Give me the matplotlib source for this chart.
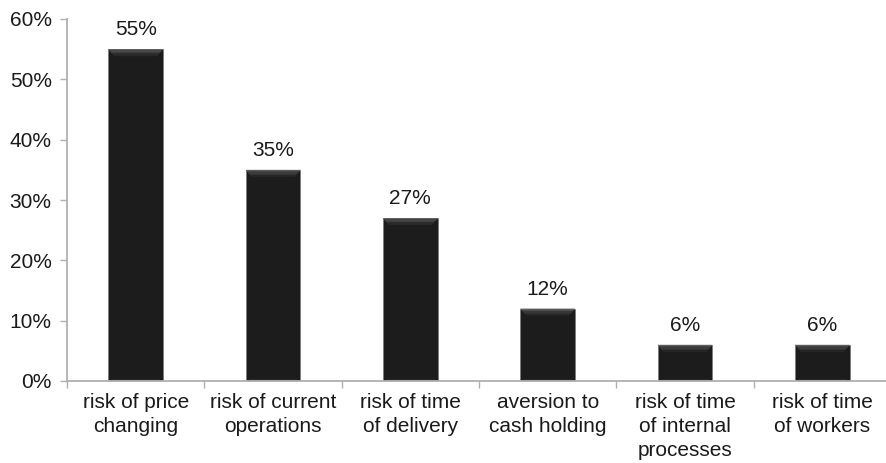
import matplotlib
matplotlib.use("Agg")
import matplotlib.pyplot as plt
from matplotlib.patches import Polygon
import numpy as np

categories = [
    "risk of price\nchanging",
    "risk of current\noperations",
    "risk of time\nof delivery",
    "aversion to\ncash holding",
    "risk of time\nof internal\nprocesses",
    "risk of time\nof workers",
]
shares = [55, 35, 27, 12, 6, 6]
y_ticks = [0, 10, 20, 30, 40, 50, 60]

plt.rcParams["font.family"] = ["Liberation Sans", "DejaVu Sans"]

W, H = 886, 463
fig = plt.figure(figsize=(W / 100, H / 100), dpi=100)
ax = fig.add_axes([67 / W, (H - 381) / H, (891 - 67) / W, 362 / H])

x = np.arange(len(categories))
bar_w = 0.4
bars = ax.bar(x, shares, width=bar_w, color="#1c1c1c",
              edgecolor="#7a7a7a", linewidth=0.6, zorder=2)

# bevelled highlight along the top of each bar
px_per_unit_y = 362 / 60.0
px_per_unit_x = 824 / 6.0
bev_h = 7 / px_per_unit_y
bev_in = 6 / px_per_unit_x
shades = ["#5c5c5c", "#4c4c4c", "#3e3e3e", "#323232", "#282828"]
n = len(shades)
for rect in bars:
    x0 = rect.get_x()
    x1 = x0 + rect.get_width()
    top = rect.get_height()
    for i, c in enumerate(shades):
        f0 = i / n
        f1 = (i + 1) / n
        ax.add_patch(Polygon([(x0 + bev_in * f0, top - bev_h * f0),
                              (x1 - bev_in * f0, top - bev_h * f0),
                              (x1 - bev_in * f1, top - bev_h * f1),
                              (x0 + bev_in * f1, top - bev_h * f1)],
                             closed=True, facecolor=c, edgecolor="none",
                             zorder=3))
    # faint lighter strip at the base
    ax.add_patch(Polygon([(x0 + bev_in * 0.5, 0.15), (x1 - bev_in * 0.5, 0.15),
                          (x1 - bev_in * 0.5, 0.4), (x0 + bev_in * 0.5, 0.4)],
                         closed=True, facecolor="#2a2a2a", edgecolor="none",
                         zorder=3))

for xi, v in zip(x, shares):
    ax.annotate(f"{v:.0f}%", (xi, v), xytext=(0, 7), textcoords="offset points",
                ha="center", va="bottom", fontsize=15, color="#1a1a1a")

ax.set_xlim(-0.5, 5.5)
ax.set_ylim(0, 60)
ax.set_yticks(y_ticks)
ax.set_yticklabels([f"{t}%" for t in y_ticks], fontsize=15, color="#1a1a1a")

# tick marks at category boundaries, labels at centers
ax.set_xticks(np.arange(-0.5, 5.0, 1.0))
ax.set_xticklabels([])
ax.set_xticks(x, minor=True)
ax.set_xticklabels(categories, minor=True, fontsize=15, color="#1a1a1a",
                   linespacing=1.3)
ax.tick_params(axis="x", which="minor", length=0, pad=9)
ax.tick_params(axis="x", which="major", length=5, width=1, color="#b0b0b0")
ax.tick_params(axis="y", length=5, width=1, color="#b0b0b0", pad=6)

for side in ("top", "right"):
    ax.spines[side].set_visible(False)
for side in ("left", "bottom"):
    ax.spines[side].set_color("#b0b0b0")
    ax.spines[side].set_linewidth(1.3)

fig.savefig("out.png", dpi=100)
